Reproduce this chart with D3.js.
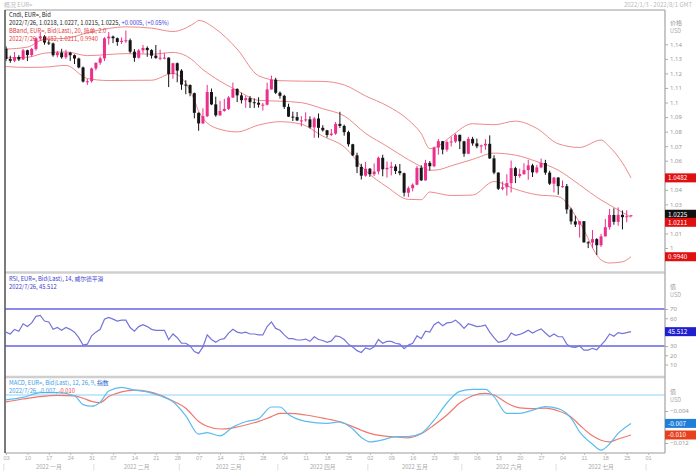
<!DOCTYPE html>
<html>
<head>
<meta charset="utf-8">
<script src="https://cdn.jsdelivr.net/npm/d3@7"></script>
<style>
  body { margin: 0; background: #fff; }
  svg { display: block; font-family: "Noto Sans CJK SC", "Noto Sans", sans-serif; }
</style>
</head>
<body>
<div class="canvas"></div>
<script>
// daily candles, EUR= bid, 2022/1/3 .. 2022/7/26 (one entry per trading day)
const open = [
  1.1370,1.1299,1.1287,1.1313,1.1296, 1.1359,1.1326,1.1368,1.1441,1.1454,
  1.1412,1.1406,1.1325,1.1343,1.1311, 1.1343,1.1325,1.1302,1.1241,1.1144,
  1.1146,1.1234,1.1273,1.1303,1.1441, 1.1453,1.1442,1.1416,1.1424,1.1428,
  1.1349,1.1307,1.1358,1.1375,1.1360, 1.1322,1.1307,1.1308,1.1308,1.1195,
  1.1270,1.1219,1.1123,1.1120,1.1064, 1.0929,1.0856,1.0906,1.1072,1.0987,
  1.0912,1.0942,1.0956,1.1034,1.1093, 1.1049,1.1016,1.1030,1.1002,1.0998,
  1.0985,1.0985,1.1090,1.1157,1.1067, 1.1046,1.0970,1.0903,1.0900,1.0877,
  1.0877,1.0884,1.0829,1.0890,1.0826, 1.0809,1.0777,1.0786,1.0853,1.0839,
  1.0796,1.0713,1.0637,1.0558,1.0497, 1.0545,1.0507,1.0526,1.0620,1.0541,
  1.0551,1.0560,1.0529,1.0514,1.0380, 1.0411,1.0435,1.0551,1.0465,1.0585,
  1.0562,1.0690,1.0734,1.0676,1.0728, 1.0732,1.0778,1.0733,1.0648,1.0750,
  1.0719,1.0699,1.0705,1.0716,1.0616, 1.0518,1.0407,1.0417,1.0446,1.0549,
  1.0495,1.0508,1.0535,1.0568,1.0520, 1.0554,1.0584,1.0518,1.0442,1.0484,
  1.0425,1.0425,1.0265,1.0183,1.0161, 1.0184,1.0039,1.0037,1.0061,1.0019,
  1.0080,1.0143,1.0227,1.0180,1.0228, 1.0212,1.0218
];
const high = [
  1.1386,1.1322,1.1347,1.1325,1.1368, 1.1363,1.1375,1.1449,1.1482,1.1463,
  1.1429,1.1412,1.1355,1.1369,1.1363, 1.1348,1.1330,1.1308,1.1247,1.1162,
  1.1240,1.1275,1.1316,1.1449,1.1484, 1.1460,1.1446,1.1447,1.1495,1.1440,
  1.1367,1.1368,1.1395,1.1386,1.1366, 1.1395,1.1363,1.1340,1.1311,1.1273,
  1.1275,1.1229,1.1153,1.1125,1.1068, 1.0932,1.0960,1.1121,1.1096,1.1040,
  1.1011,1.1025,1.1044,1.1137,1.1098, 1.1067,1.1047,1.1045,1.1028,1.1036,
  1.0997,1.1137,1.1185,1.1170,1.1076, 1.1053,1.0992,1.0937,1.0935,1.0906,
  1.0933,1.0905,1.0900,1.0924,1.0844, 1.0812,1.0818,1.0866,1.0936,1.0848,
  1.0806,1.0716,1.0655,1.0579,1.0592, 1.0549,1.0581,1.0629,1.0641,1.0595,
  1.0592,1.0575,1.0577,1.0518,1.0423, 1.0444,1.0564,1.0568,1.0606,1.0598,
  1.0697,1.0749,1.0736,1.0740,1.0765, 1.0787,1.0778,1.0737,1.0764,1.0764,
  1.0752,1.0710,1.0748,1.0774,1.0637, 1.0520,1.0457,1.0507,1.0601,1.0558,
  1.0545,1.0583,1.0606,1.0579,1.0571, 1.0615,1.0606,1.0531,1.0488,1.0487,
  1.0464,1.0440,1.0277,1.0222,1.0186, 1.0185,1.0047,1.0123,1.0068,1.0097,
  1.0200,1.0268,1.0273,1.0279,1.0258, 1.0259,1.0227
];
const low = [
  1.1285,1.1273,1.1277,1.1285,1.1292, 1.1285,1.1314,1.1356,1.1430,1.1397,
  1.1395,1.1315,1.1310,1.1301,1.1300, 1.1286,1.1264,1.1235,1.1137,1.1121,
  1.1137,1.1221,1.1259,1.1285,1.1398, 1.1408,1.1390,1.1402,1.1410,1.1339,
  1.1280,1.1302,1.1337,1.1314,1.1302, 1.1300,1.1290,1.1297,1.1106,1.1163,
  1.1139,1.1087,1.1057,1.1043,1.0891, 1.0806,1.0853,1.0900,1.0982,1.0902,
  1.0908,1.0937,1.0949,1.1031,1.1003, 1.0993,1.0963,1.0962,1.0963,1.0965,
  1.0945,1.0980,1.1088,1.1058,1.1027, 1.0956,1.0900,1.0873,1.0872,1.0836,
  1.0868,1.0821,1.0757,1.0758,1.0800, 1.0760,1.0769,1.0778,1.0825,1.0772,
  1.0697,1.0632,1.0515,1.0471,1.0490, 1.0489,1.0495,1.0506,1.0493,1.0484,
  1.0499,1.0508,1.0500,1.0354,1.0350, 1.0389,1.0431,1.0461,1.0462,1.0532,
  1.0555,1.0641,1.0644,1.0662,1.0698, 1.0722,1.0680,1.0627,1.0645,1.0703,
  1.0686,1.0653,1.0675,1.0612,1.0507, 1.0398,1.0397,1.0360,1.0382,1.0446,
  1.0482,1.0503,1.0469,1.0488,1.0512, 1.0548,1.0503,1.0433,1.0382,1.0366,
  1.0414,1.0235,1.0162,1.0144,1.0072, 1.0037,0.9999,0.9998,0.9952,1.0007,
  1.0079,1.0126,1.0160,1.0153,1.0128, 1.0177,1.0215
];
const close = [
  1.1299,1.1287,1.1313,1.1296,1.1359, 1.1326,1.1368,1.1441,1.1454,1.1412,
  1.1406,1.1325,1.1343,1.1311,1.1343, 1.1325,1.1302,1.1241,1.1144,1.1146,
  1.1234,1.1273,1.1303,1.1441,1.1453, 1.1442,1.1416,1.1424,1.1428,1.1349,
  1.1307,1.1358,1.1375,1.1360,1.1322, 1.1307,1.1308,1.1308,1.1195,1.1270,
  1.1219,1.1123,1.1120,1.1064,1.0929, 1.0856,1.0906,1.1072,1.0987,1.0912,
  1.0942,1.0956,1.1034,1.1093,1.1049, 1.1016,1.1030,1.1002,1.0998,1.0985,
  1.0985,1.1090,1.1157,1.1067,1.1046, 1.0970,1.0903,1.0900,1.0877,1.0877,
  1.0884,1.0829,1.0890,1.0826,1.0809, 1.0777,1.0786,1.0853,1.0839,1.0796,
  1.0713,1.0637,1.0558,1.0497,1.0545, 1.0507,1.0526,1.0620,1.0541,1.0551,
  1.0560,1.0529,1.0514,1.0380,1.0411, 1.0435,1.0551,1.0465,1.0585,1.0562,
  1.0690,1.0734,1.0676,1.0728,1.0732, 1.0778,1.0733,1.0648,1.0750,1.0719,
  1.0699,1.0705,1.0716,1.0616,1.0518, 1.0407,1.0417,1.0446,1.0549,1.0495,
  1.0508,1.0535,1.0568,1.0520,1.0554, 1.0584,1.0518,1.0442,1.0484,1.0425,
  1.0425,1.0265,1.0183,1.0161,1.0184, 1.0039,1.0037,1.0061,1.0019,1.0080,
  1.0143,1.0227,1.0180,1.0228,1.0212, 1.0218,1.0225
];

// bollinger band (20, 2.0) at these trading days
const bbDay   = [0,5,9,14,19,24,28,34,39,44,45,49,54,59,64,69,74,79,84,89,94,97,99,101,104,109,114,119,124,129,134,139,141,144,146];
const bbUpper = [1.1367,1.1381,1.1435,1.1441,1.1479,1.1509,1.1520,1.1511,1.1488,1.1545,1.1564,1.1505,1.1367,1.1184,1.1150,1.1147,1.1145,1.1121,1.1045,1.0978,1.0880,1.0786,1.0683,1.0701,1.0769,1.0854,1.0847,1.0872,1.0822,1.0716,1.0691,1.0742,1.0695,1.0585,1.0482];
const bbMid   = [1.1307,1.1311,1.1339,1.1348,1.1322,1.1330,1.1336,1.1332,1.1344,1.1281,1.1252,1.1165,1.1083,1.1015,1.1009,1.0999,1.0957,1.0908,1.0788,1.0699,1.0607,1.0559,1.0534,1.0538,1.0565,1.0609,1.0652,1.0638,1.0594,1.0535,1.0434,1.0330,1.0296,1.0245,1.0211];
const bbLower = [1.1247,1.1241,1.1243,1.1255,1.1165,1.1151,1.1152,1.1153,1.1200,1.1017,1.0940,1.0825,1.0798,1.0845,1.0868,1.0851,1.0769,1.0695,1.0531,1.0420,1.0334,1.0332,1.0385,1.0375,1.0361,1.0364,1.0457,1.0404,1.0366,1.0354,1.0176,0.9918,0.9897,0.9905,0.9940];

// RSI 14, one value per trading day
const rsi = [
  45,43,48,46,54, 51,55,62,63,57, 56,48,50,47,50, 48,45,39,31,32,
  41,45,48,59,61, 59,57,58,58,50, 46,51,53,51,48, 47,47,47,37,43,
  39,33,33,30,24, 22,29,42,37,34, 37,38,44,48,45, 44,45,43,43,42,
  42,51,56,49,47, 42,38,38,36.5,36.5, 37.5,35,40,37,36, 34,35.5,41,40,37,
  32,29,25,23,28, 26.5,29,37,33,35, 35,33,32,27,31, 33,41,38,46,45,
  53,56,52,55,55.5, 58,54,49,54,52.5, 51,51.5,52.5,45,39, 34,35,37,44,41.5,
  42.5,44.5,47,44,46.5, 48.5,44,40,43,40, 40,32,29,28.5,30, 25.5,25.5,27.5,26,31,
  36,43,40.5,44.5,43.5, 44.5,45.512
];

// MACD 12/26/9 at these trading days
const macdDay  = [0,4,8,12,16,18,20,22,24,27,30,33,36,39,42,45,47,50,53,56,59,62,64,66,70,75,78,81,83,85,88,91,94,97,100,103,106,109,112,114,117,120,123,126,129,132,134,137,139,141,143,146];
const macdLine = [-0.0012,-0.0006,0.0006,0.0006,-0.0002,-0.0024,-0.0028,-0.0018,0.0010,0.0019,
  0.0012,0.0008,-0.0002,-0.0017,-0.0052,-0.0098,-0.0094,-0.0102,-0.0080,-0.0067,
  -0.0059,-0.0030,-0.0030,-0.0049,-0.0066,-0.0071,-0.0067,-0.0085,-0.0106,-0.0117,
  -0.0112,-0.0104,-0.0104,-0.0096,-0.0063,-0.0020,0.0009,0.0014,0.0014,-0.0004,
  -0.0046,-0.0046,-0.0038,-0.0029,-0.0034,-0.0058,-0.0092,-0.0123,-0.0138,-0.0122,
  -0.0096,-0.0071];
const macdSignal = [-0.0017,-0.0010,-0.0004,-0.0001,-0.0002,-0.0008,-0.0016,-0.0019,-0.0004,0.0008,
  0.0012,0.0009,0.0000,-0.0015,-0.0033,-0.0066,-0.0078,-0.0085,-0.0082,-0.0075,
  -0.0066,-0.0054,-0.0046,-0.0046,-0.0050,-0.0060,-0.0067,-0.0079,-0.0088,-0.0096,
  -0.0102,-0.0105,-0.0107,-0.0097,-0.0075,-0.0050,-0.0020,-0.0002,0.0004,0.0000,
  -0.0020,-0.0032,-0.0034,-0.0033,-0.0040,-0.0055,-0.0075,-0.0102,-0.0113,-0.0117,
  -0.0110,-0.0100];

// axis labels
const weekTicks = ["03","10","17","24","31","07","14","21","28","07","14","21","28","04","11","18","25",
  "02","09","16","23","30","06","13","20","27","04","11","18","25","01"];
const monthNames = ["2022 一月","2022 二月","2022 三月","2022 四月","2022 五月","2022 六月","2022 七月"];
const priceTicks = [0.99,1.00,1.01,1.02,1.03,1.04,1.05,1.06,1.07,1.08,1.09,1.10,1.11,1.12,1.13,1.14];
const rsiTicks = [10,20,30,40,50,60,70];
const macdTicks = [-0.004,-0.008,-0.012];

// chart dimensions
const dims = { width: 696, height: 474, left: 5, right: 665 };
const panels = {
  price: { top: 10, bottom: 272 },
  rsi: { top: 273, bottom: 376 },
  macd: { top: 378, bottom: 453 }
};
const font = 5.8;   // legend font size
const lineGap = 8.3; // legend line spacing

// trading days (weekdays) incl. the empty days at the right edge
const days = d3.timeDay.range(new Date(2022, 0, 3), new Date(2022, 7, 6))
  .filter(d => d.getDay() !== 0 && d.getDay() !== 6);

// create svg
const svg = d3.select('.canvas')
  .append('svg')
  .attr('width', dims.width)
  .attr('height', dims.height);

// scales
const x = d3.scaleLinear().domain([0, 146]).range([6, 631]);
const yPrice = d3.scaleLinear().domain([1.00, 1.14]).range([248, 44.3]);
const yRsi = d3.scaleLinear().domain([30, 70]).range([346, 309]);
const yMacd = d3.scaleLinear().domain([0, -0.012]).range([395, 443]);

// clip each panel
const defs = svg.append('defs');
Object.entries(panels).forEach(([k, p]) => {
  defs.append('clipPath').attr('id', 'clip-' + k)
    .append('rect')
    .attr('x', dims.left).attr('y', p.top)
    .attr('width', dims.right - dims.left).attr('height', p.bottom - p.top);
});

// header text
svg.append('text').attr('x', 4).attr('y', 7)
  .attr('font-size', 6).attr('fill', '#bbb').text('概况  EUR=');
svg.append('text').attr('x', 692).attr('y', 7).attr('text-anchor', 'end')
  .attr('font-size', 6).attr('fill', '#bbb').text('2022/1/3 - 2022/8/1 GMT');

// ---------- price panel ----------
const price = svg.append('g').attr('clip-path', 'url(#clip-price)');

const bbLine = d3.line()
  .x((d, i) => x(bbDay[i]))
  .y(d => yPrice(d))
  .curve(d3.curveMonotoneX);

[bbUpper, bbMid, bbLower].forEach(series => {
  price.append('path')
    .attr('d', bbLine(series))
    .attr('fill', 'none')
    .attr('stroke', '#ee8a8a')
    .attr('stroke-width', 1);
});

const candles = close.map((c, i) => ({ i, o: open[i], h: high[i], l: low[i], c }));
const candleColor = d => d.c >= d.o ? '#ec2f8b' : '#151515';

price.selectAll('line.wick')
  .data(candles)
  .enter().append('line')
    .attr('class', 'wick')
    .attr('x1', d => x(d.i)).attr('x2', d => x(d.i))
    .attr('y1', d => yPrice(d.h)).attr('y2', d => yPrice(d.l))
    .attr('stroke', candleColor)
    .attr('stroke-width', 1);

price.selectAll('rect.body')
  .data(candles)
  .enter().append('rect')
    .attr('class', 'body')
    .attr('x', d => x(d.i) - 1.5)
    .attr('width', 3)
    .attr('y', d => yPrice(Math.max(d.o, d.c)))
    .attr('height', d => Math.max(1, Math.abs(yPrice(d.o) - yPrice(d.c))))
    .attr('fill', candleColor);

// price legend
const legend = svg.append('g').attr('font-size', font);
legend.append('text').attr('x', 9).attr('y', 16.5).attr('fill', '#222').text('Cndl, EUR=, Bid');
const l2 = legend.append('text').attr('x', 9).attr('y', 16.5 + lineGap).attr('fill', '#222');
l2.append('tspan').text('2022/7/26, 1.0218, 1.0227, 1.0215, 1.0225, ');
l2.append('tspan').attr('fill', '#3a3ae0').text('+0.0005, (+0.05%)');
legend.append('text').attr('x', 9).attr('y', 16.5 + 2 * lineGap).attr('fill', '#e23a3a')
  .text('BBand, EUR=, Bid(Last), 20, 简单, 2.0');
legend.append('text').attr('x', 9).attr('y', 16.5 + 3 * lineGap).attr('fill', '#e23a3a')
  .text('2022/7/26, 1.0482, 1.0211, 0.9940');

// ---------- RSI panel ----------
const rsiG = svg.append('g').attr('clip-path', 'url(#clip-rsi)');
[70, 30].forEach(v => {
  rsiG.append('line')
    .attr('x1', dims.left).attr('x2', dims.right)
    .attr('y1', yRsi(v)).attr('y2', yRsi(v))
    .attr('stroke', '#8c8ce8').attr('stroke-width', 2);
});
rsiG.append('path')
  .attr('d', d3.line().x((d, i) => x(i)).y(d => yRsi(d))(rsi))
  .attr('fill', 'none')
  .attr('stroke', '#7474da')
  .attr('stroke-width', 1.2);

const rsiLegend = svg.append('g').attr('font-size', font).attr('fill', '#3b3bcf');
rsiLegend.append('text').attr('x', 9).attr('y', 280.5).text('RSI, EUR=, Bid(Last), 14, 威尔德平滑');
rsiLegend.append('text').attr('x', 9).attr('y', 280.5 + lineGap).text('2022/7/26, 45.512');

// ---------- MACD panel ----------
const macdG = svg.append('g').attr('clip-path', 'url(#clip-macd)');
macdG.append('line')
  .attr('x1', dims.left).attr('x2', dims.right)
  .attr('y1', yMacd(0)).attr('y2', yMacd(0))
  .attr('stroke', '#8ed2f4').attr('stroke-width', 1.2);

const macdPath = d3.line()
  .x((d, i) => x(macdDay[i]))
  .y(d => yMacd(d))
  .curve(d3.curveMonotoneX);

macdG.append('path').attr('d', macdPath(macdSignal))
  .attr('fill', 'none').attr('stroke', '#f0776c').attr('stroke-width', 1.2);
macdG.append('path').attr('d', macdPath(macdLine))
  .attr('fill', 'none').attr('stroke', '#5cbcf0').attr('stroke-width', 1.2);

const macdLegend = svg.append('g').attr('font-size', font);
const m1 = macdLegend.append('text').attr('x', 9).attr('y', 384.5).attr('fill', '#3d9ee0');
m1.append('tspan').text('MACD, EUR=, Bid(Last), 12, 26, 9, ');
m1.append('tspan').attr('fill', '#1d5fd0').text('指数');
const m2 = macdLegend.append('text').attr('x', 9).attr('y', 384.5 + lineGap).attr('fill', '#3d9ee0');
m2.append('tspan').text('2022/7/26, -0.007, ');
m2.append('tspan').attr('fill', '#e8463a').text('-0.010');

// ---------- frame ----------
const frame = svg.append('g');
frame.append('line').attr('x1', dims.left).attr('x2', dims.right).attr('y1', 10).attr('y2', 10)
  .attr('stroke', '#bdbdbd').attr('stroke-width', 1.5);
[272.5, 377].forEach(y => {
  frame.append('line').attr('x1', dims.left).attr('x2', dims.right).attr('y1', y).attr('y2', y)
    .attr('stroke', '#cfcfcf').attr('stroke-width', 2.5);
});
frame.append('line').attr('x1', dims.left).attr('x2', dims.right).attr('y1', 453).attr('y2', 453)
  .attr('stroke', '#bdbdbd').attr('stroke-width', 1.5);
frame.append('line').attr('x1', dims.left).attr('x2', dims.left).attr('y1', 10).attr('y2', 453)
  .attr('stroke', '#5a5a5a').attr('stroke-width', 1.6);
frame.append('line').attr('x1', dims.right).attr('x2', dims.right).attr('y1', 10).attr('y2', 453)
  .attr('stroke', '#b0b0b0').attr('stroke-width', 1.4);

// value tags on the axis (y positions first, so covered tick labels can be skipped)
const tags = [
  { y: yPrice(bbUpper[bbUpper.length - 1]), text: '1.0482', fill: '#e01010' },
  { y: yPrice(close[close.length - 1]) - 1, text: '1.0225', fill: '#111' },
  { y: yPrice(bbMid[bbMid.length - 1]) + 5, text: '1.0211', fill: '#e01010' },
  { y: yPrice(bbLower[bbLower.length - 1]), text: '0.9940', fill: '#e01010' },
  { y: yRsi(rsi[rsi.length - 1]), text: '45.512', fill: '#1f1fd0' },
  { y: yMacd(macdLine[macdLine.length - 1]), text: '-0.007', fill: '#1f7fd8' },
  { y: yMacd(macdSignal[macdSignal.length - 1]), text: '-0.010', fill: '#e8401c' }
];
const visible = scale => v => tags.every(t => Math.abs(scale(v) - t.y) > 7);

// ---------- right axes ----------
const styleAxis = g => {
  g.select('.domain').remove();
  g.selectAll('.tick line').attr('stroke', '#aaa');
  g.selectAll('.tick text').attr('fill', '#999').attr('font-size', 6)
    .attr('font-family', '"Noto Sans", sans-serif');
};

svg.append('g').attr('transform', `translate(${dims.right}, 0)`)
  .call(d3.axisRight(yPrice).tickValues(priceTicks.filter(visible(yPrice))).tickSize(3).tickPadding(2)
    .tickFormat(d => String(+d.toFixed(2))))
  .call(styleAxis);
svg.append('g').attr('transform', `translate(${dims.right}, 0)`)
  .call(d3.axisRight(yRsi).tickValues(rsiTicks.filter(visible(yRsi))).tickSize(3).tickPadding(2))
  .call(styleAxis);
svg.append('g').attr('transform', `translate(${dims.right}, 0)`)
  .call(d3.axisRight(yMacd).tickValues(macdTicks.filter(visible(yMacd))).tickSize(3).tickPadding(2)
    .tickFormat(d3.format('.3f')))
  .call(styleAxis);

// unit captions at the top of each axis
const units = [['价格', 23, 'USD', 31], ['值', 287, 'USD', 295], ['值', 392, 'USD', 400]];
units.forEach(([a, ya, b, yb]) => {
  svg.append('text').attr('x', 670).attr('y', ya + 2).attr('font-size', 6).attr('fill', '#999').text(a);
  svg.append('text').attr('x', 670).attr('y', yb + 2).attr('font-size', 5.5).attr('fill', '#aaa').text(b);
});

tags.forEach(t => {
  svg.append('rect').attr('x', dims.right).attr('y', t.y - 4.5)
    .attr('width', 31).attr('height', 9).attr('fill', t.fill);
  svg.append('text').attr('x', dims.right + 3).attr('y', t.y + 2.3)
    .attr('font-size', 6.3).attr('fill', '#fff').text(t.text);
});

// ---------- date axis ----------
svg.append('g').attr('transform', 'translate(0, 453)')
  .call(d3.axisBottom(x).tickValues(d3.range(0, 151, 5)).tickSize(2).tickPadding(1)
    .tickFormat((d, k) => weekTicks[k]))
  .call(g => {
    g.select('.domain').remove();
    g.selectAll('.tick line').attr('stroke', '#bbb');
    g.selectAll('.tick text').attr('fill', '#aaa').attr('font-size', 5.5);
  });

// month spans from the trading-day calendar
const monthStart = [];
days.forEach((d, i) => {
  if (i === 0 || d.getMonth() !== days[i - 1].getMonth()) monthStart.push(i);
});
const months = svg.append('g').attr('font-size', 5.8).attr('fill', '#aaa');
monthStart.forEach((s, k) => {
  months.append('text').attr('x', x(s - 0.5)).attr('y', 469)
    .attr('text-anchor', 'middle').text('|');
  if (k < monthNames.length) {
    const e = monthStart[k + 1];
    months.append('text').attr('x', (x(s - 0.5) + x(e - 0.5)) / 2).attr('y', 469)
      .attr('text-anchor', 'middle').text(monthNames[k]);
  }
});
</script>
</body>
</html>
